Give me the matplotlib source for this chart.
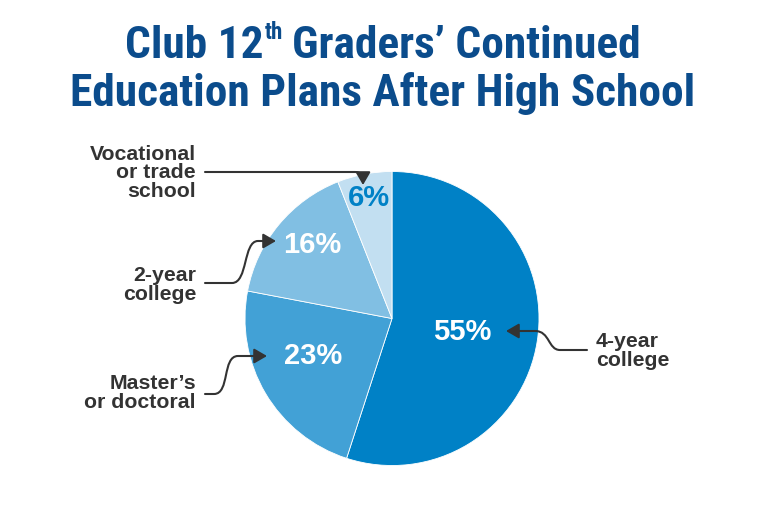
import matplotlib
matplotlib.use("Agg")
import matplotlib.pyplot as plt
from matplotlib import font_manager as fm
from matplotlib.patches import FancyArrowPatch
from matplotlib.path import Path

# ---- data ----
categories = ["4-year\ncollege", "Master’s\nor doctoral", "2-year\ncollege", "Vocational\nor trade\nschool"]
values = [55, 23, 16, 6]
slice_colors = ["#0081C6", "#42A1D6", "#81BFE3", "#C2DFF1"]
pct_colors = ["white", "white", "white", "#0081C6"]
title_parts = ["Club 12", "th", "Graders’ Continued"]
title_line2 = "Education Plans After High School"

# ---- fonts ----
names = {f.name for f in fm.fontManager.ttflist}
title_family = next((n for n in ["Liberation Sans Narrow", "Roboto Condensed", "DejaVu Sans"] if n in names), "DejaVu Sans")
label_family = next((n for n in ["Liberation Sans", "Roboto", "DejaVu Sans"] if n in names), "DejaVu Sans")
title_stretch = "condensed" if title_family == "DejaVu Sans" else "normal"

W, H = 767, 511
fig = plt.figure(figsize=(W / 100, H / 100), dpi=100)
ax = fig.add_axes([0, 0, 1, 1])

def P(x, y):
    return (x, H - y)

cx, cy = P(392, 318.5)
ax.pie(values, colors=slice_colors, startangle=90, counterclock=False,
       center=(cx, cy), radius=147,
       wedgeprops=dict(linewidth=0.6, edgecolor="white"))
ax.set_xlim(0, W)
ax.set_ylim(0, H)
ax.set_aspect("auto")
ax.axis("off")

TEXT = "#333333"
TITLE = "#0B4C8C"

# percentage labels (layout positions)
pct_pos = [(462, 332), (313, 356), (312, 245), (369, 198)]
for v, c, (x, y) in zip(values, pct_colors, pct_pos):
    ax.text(*P(x, y), f"{v}%", color=c, fontsize=21, fontweight="bold",
            family=label_family, ha="center", va="center")

# category labels (y = baseline of last line)
lab_pos = [(596, 366, "left"), (196, 408, "right"), (196, 300, "right"), (196, 197, "right")]
for lab, (x, y, ha) in zip(categories, lab_pos):
    ax.text(*P(x, y), lab, color=TEXT, fontsize=15.3, fontweight="bold",
            family=label_family, ha=ha, va="baseline", linespacing=0.98,
            multialignment=ha)

# leader arrows
def arrow(verts, codes):
    path = Path([P(*v) for v in verts], codes)
    a = FancyArrowPatch(path=path, arrowstyle="-|>,head_length=0.55,head_width=0.32",
                        mutation_scale=14, color=TEXT, linewidth=1.5,
                        transform=ax.transData)
    ax.add_patch(a)

M, L, C = Path.MOVETO, Path.LINETO, Path.CURVE4
arrow([(205, 172), (355, 172), (361, 172), (363, 175), (363, 185)], [M, L, C, C, C])
arrow([(205, 283), (232, 283), (248, 283), (243, 241), (258, 241), (276, 241)], [M, L, C, C, C, L])
arrow([(205, 394), (214, 394), (230, 394), (222, 356), (238, 356), (267, 356)], [M, L, C, C, C, L])
arrow([(587, 350), (560, 350), (548, 350), (550, 331), (535, 331), (506, 331)], [M, L, C, C, C, L])

# title
tfs = 32.7
renderer = fig.canvas.get_renderer()
kw = dict(color=TITLE, fontweight="bold", family=title_family, fontstretch=title_stretch, va="baseline")

def width(s, fs):
    t = ax.text(0, 0, s, fontsize=fs, **kw)
    w = t.get_window_extent(renderer).width
    t.remove()
    return w

space = width("a a", tfs) - width("aa", tfs)
sup_fs = tfs * 0.5
w1 = width(title_parts[0], tfs)
w2 = width(title_parts[1], sup_fs)
w3 = width(title_parts[2], tfs)
total = w1 + w2 + space + w3
x0 = 383 - total / 2
ax.text(*P(x0, 57.5), title_parts[0], fontsize=tfs, ha="left", **kw)
ax.text(*P(x0 + w1 + 1, 39), title_parts[1], fontsize=sup_fs, ha="left", **kw)
ax.text(*P(x0 + w1 + w2 + space, 57.5), title_parts[2], fontsize=tfs, ha="left", **kw)
ax.text(*P(383, 105.5), title_line2, fontsize=tfs, ha="center", **kw)

fig.savefig("out.png", dpi=100)
